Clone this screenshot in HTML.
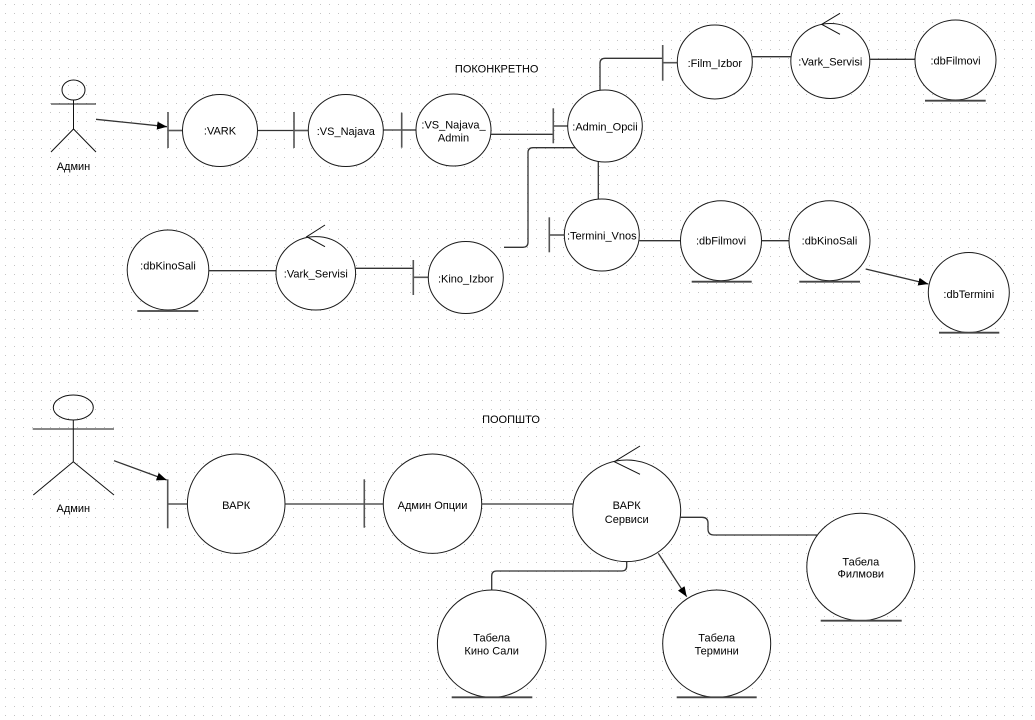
<!DOCTYPE html>
<html>
<head>
<meta charset="utf-8">
<style>
html,body{margin:0;padding:0;background:#fff;}
svg{display:block;}
text{font-family:"Liberation Sans","Noto Sans CJK SC",sans-serif;font-size:11px;fill:#000;text-anchor:middle;}
.c{fill:#fff;stroke:#1a1a1a;stroke-width:1;}
.l{fill:none;stroke:#333;stroke-width:1.3;}
.b{fill:none;stroke:#555;stroke-width:1.6;}
.u{fill:none;stroke:#444;stroke-width:1.8;}
.a{fill:none;stroke:#111;stroke-width:1;}
</style>
</head>
<body>
<svg width="1035" height="720" viewBox="0 0 1035 720" xmlns="http://www.w3.org/2000/svg">
<defs>
<pattern id="g" x="5" y="4" width="9" height="9" patternUnits="userSpaceOnUse">
<rect x="0" y="0" width="1" height="1" fill="#c4c4c4"/>
</pattern>
<marker id="ar" markerUnits="userSpaceOnUse" markerWidth="10" markerHeight="8" refX="10" refY="4" orient="auto">
<path d="M0,0 L10,4 L0,8 z" fill="#000"/>
</marker>
</defs>
<rect width="1035" height="720" fill="#fff"/>
<rect width="1035" height="720" fill="url(#g)"/>

<!-- ===== TOP ===== -->
<!-- actor -->
<ellipse class="a" cx="73.5" cy="90" rx="11.5" ry="10" fill="#fff"/>
<line class="a" x1="51" y1="104" x2="96" y2="104"/>
<line class="a" x1="73.5" y1="100" x2="73.5" y2="129"/>
<line class="a" x1="73.5" y1="129" x2="51" y2="152"/>
<line class="a" x1="73.5" y1="129" x2="96" y2="152"/>
<text x="73.5" y="170">Админ</text>
<line class="l" x1="96" y1="119.3" x2="167" y2="126.7" marker-end="url(#ar)"/>

<text x="496.7" y="72.3">ПОКОНКРЕТНО</text>

<!-- VARK -->
<line class="b" x1="168" y1="112" x2="168" y2="148"/>
<line class="b" x1="168" y1="130.5" x2="182.5" y2="130.5"/>
<ellipse class="c" cx="220" cy="130.5" rx="37.5" ry="36"/>
<text x="220" y="134.7">:VARK</text>
<line class="l" x1="257.5" y1="130.5" x2="294" y2="130.5"/>

<!-- VS_Najava -->
<line class="b" x1="294" y1="112" x2="294" y2="148"/>
<line class="b" x1="294" y1="130.5" x2="308.3" y2="130.5"/>
<ellipse class="c" cx="345.8" cy="130.5" rx="37.5" ry="36"/>
<text x="345.8" y="135">:VS_Najava</text>
<line class="l" x1="383.3" y1="130" x2="401.7" y2="130"/>

<!-- VS_Najava_Admin -->
<line class="b" x1="401.7" y1="112.7" x2="401.7" y2="147.7"/>
<line class="b" x1="401.7" y1="130" x2="416" y2="130"/>
<ellipse class="c" cx="453.5" cy="130" rx="37.5" ry="36"/>
<text x="453.5" y="128.3">:VS_Najava_</text>
<text x="453.5" y="141.3">Admin</text>
<line class="l" x1="491" y1="134.3" x2="553.3" y2="134.3"/>

<!-- Admin_Opcii -->
<path class="l" d="M600,90 V63.3 Q600,58.3 605,58.3 H662.7"/>
<path class="l" d="M575,147.7 H533 Q528,147.7 528,152.7 V242.3 Q528,247.3 523,247.3 H504"/>
<line class="l" x1="598.3" y1="161.7" x2="598.3" y2="199"/>
<line class="b" x1="553.3" y1="108.3" x2="553.3" y2="143.3"/>
<line class="b" x1="553.3" y1="126" x2="567.7" y2="126"/>
<ellipse class="c" cx="605" cy="126" rx="37.3" ry="36"/>
<text x="605" y="130.7">:Admin_Opcii</text>

<!-- Film_Izbor -->
<line class="b" x1="662.7" y1="45" x2="662.7" y2="80.7"/>
<line class="b" x1="662.7" y1="62.7" x2="677.3" y2="62.7"/>
<ellipse class="c" cx="714.8" cy="62" rx="37.5" ry="37"/>
<text x="714.8" y="67">:Film_Izbor</text>
<line class="l" x1="752" y1="56.7" x2="790.7" y2="56.7"/>

<!-- Vark_Servisi top -->
<ellipse class="c" cx="830.3" cy="61" rx="39.5" ry="37.5"/>
<polyline class="a" points="840,13.3 821.7,24.3 840,34.3"/>
<text x="830.3" y="65.7">:Vark_Servisi</text>
<line class="l" x1="870" y1="59.3" x2="915" y2="59.3"/>

<!-- dbFilmovi top -->
<ellipse class="c" cx="955.5" cy="60" rx="40.5" ry="40"/>
<text x="955.5" y="64.7">:dbFilmovi</text>
<line class="u" x1="925" y1="100.7" x2="985.7" y2="100.7"/>

<!-- Termini_Vnos -->
<line class="b" x1="549.3" y1="217.3" x2="549.3" y2="252.3"/>
<line class="b" x1="549.3" y1="235" x2="564.3" y2="235"/>
<ellipse class="c" cx="601.8" cy="235" rx="37.5" ry="36"/>
<text x="601.8" y="239.7">:Termini_Vnos</text>
<line class="l" x1="639.3" y1="240.7" x2="681" y2="240.7"/>

<!-- dbFilmovi 2 -->
<ellipse class="c" cx="721" cy="240.7" rx="40.5" ry="40"/>
<text x="721" y="244.7">:dbFilmovi</text>
<line class="u" x1="691.7" y1="281.7" x2="751.7" y2="281.7"/>
<line class="l" x1="761.5" y1="240.7" x2="789" y2="240.7"/>

<!-- dbKinoSali right -->
<ellipse class="c" cx="829.5" cy="240.7" rx="40.5" ry="40"/>
<text x="829.5" y="244.7">:dbKinoSali</text>
<line class="u" x1="799.3" y1="281.7" x2="860" y2="281.7"/>
<line class="l" x1="865.7" y1="269" x2="928.3" y2="284" marker-end="url(#ar)"/>

<!-- dbTermini -->
<ellipse class="c" cx="968.8" cy="292.5" rx="40.5" ry="40"/>
<text x="968.8" y="298">:dbTermini</text>
<line class="u" x1="939" y1="332.7" x2="999.3" y2="332.7"/>

<!-- dbKinoSali left -->
<ellipse class="c" cx="168" cy="270" rx="40.8" ry="40"/>
<text x="168" y="269.7">:dbKinoSali</text>
<line class="u" x1="137.3" y1="311" x2="198.3" y2="311"/>
<line class="l" x1="209" y1="270.7" x2="276" y2="270.7"/>

<!-- Vark_Servisi lower -->
<ellipse class="c" cx="315.8" cy="273.3" rx="39.8" ry="36.7"/>
<polyline class="a" points="325,225 306.7,236.7 325,246.7"/>
<text x="315.8" y="277.3">:Vark_Servisi</text>
<line class="l" x1="355.7" y1="268.3" x2="413.3" y2="268.3"/>

<!-- Kino_Izbor -->
<line class="b" x1="413.3" y1="260" x2="413.3" y2="295"/>
<line class="b" x1="413.3" y1="277.3" x2="428.3" y2="277.3"/>
<ellipse class="c" cx="465.8" cy="277.5" rx="37.5" ry="36"/>
<text x="465.8" y="282.3">:Kino_Izbor</text>

<!-- ===== BOTTOM ===== -->
<ellipse class="a" cx="73.3" cy="407.5" rx="20" ry="12.5" fill="#fff"/>
<line class="a" x1="32.7" y1="429" x2="114" y2="429"/>
<line class="a" x1="73.3" y1="420" x2="73.3" y2="461.7"/>
<line class="a" x1="73.3" y1="461.7" x2="33.3" y2="495"/>
<line class="a" x1="73.3" y1="461.7" x2="114" y2="495"/>
<text x="73.3" y="512">Админ</text>
<line class="l" x1="114" y1="460.7" x2="166.7" y2="480" marker-end="url(#ar)"/>

<text x="511" y="423">ПООПШТО</text>

<!-- ВАРК -->
<line class="b" x1="167.7" y1="479.3" x2="167.7" y2="528.3"/>
<line class="b" x1="167.7" y1="504" x2="187.3" y2="504"/>
<ellipse class="c" cx="236.2" cy="503.7" rx="48.8" ry="49.7"/>
<text x="236.2" y="509">ВАРК</text>
<line class="l" x1="285" y1="504" x2="364.3" y2="504"/>

<!-- Админ Опции -->
<line class="b" x1="364.3" y1="479.3" x2="364.3" y2="527.7"/>
<line class="b" x1="364.3" y1="504" x2="383.3" y2="504"/>
<ellipse class="c" cx="432.5" cy="503.7" rx="49.2" ry="49.7"/>
<text x="432.5" y="509">Админ Опции</text>
<line class="l" x1="481.7" y1="504" x2="572.7" y2="504"/>

<!-- connectors from ВАРК Сервиси -->
<path class="l" d="M680.7,517.3 H702 Q708,517.3 708,523 V529 Q708,535 714,535 H817"/>
<path class="l" d="M626.7,561 V566 Q626.7,571 621.7,571 H496.7 Q491.7,571 491.7,576 V590"/>
<line class="l" x1="658.3" y1="553.3" x2="686.7" y2="596.7" marker-end="url(#ar)"/>

<!-- ВАРК Сервиси -->
<ellipse class="c" cx="626.7" cy="510.8" rx="54" ry="50.8"/>
<polyline class="a" points="640,446 614.3,461.7 640,474.3"/>
<text x="626.7" y="509">ВАРК</text>
<text x="626.7" y="523">Сервиси</text>

<!-- Табела Кино Сали -->
<ellipse class="c" cx="491.7" cy="643.7" rx="54.3" ry="53.7"/>
<text x="491.7" y="641.3">Табела</text>
<text x="491.7" y="654.7">Кино Сали</text>
<line class="u" x1="451.7" y1="697.3" x2="532.3" y2="697.3"/>

<!-- Табела Термини -->
<ellipse class="c" cx="716.7" cy="643.7" rx="54" ry="53.7"/>
<text x="716.7" y="641.3">Табела</text>
<text x="716.7" y="654.7">Термини</text>
<line class="u" x1="676.7" y1="697.3" x2="756.7" y2="697.3"/>

<!-- Табела Филмови -->
<ellipse class="c" cx="860.8" cy="567" rx="54" ry="53.7"/>
<text x="860.8" y="565.7">Табела</text>
<text x="860.8" y="577.7">Филмови</text>
<line class="u" x1="820.7" y1="620.7" x2="901.7" y2="620.7"/>
</svg>
</body>
</html>
